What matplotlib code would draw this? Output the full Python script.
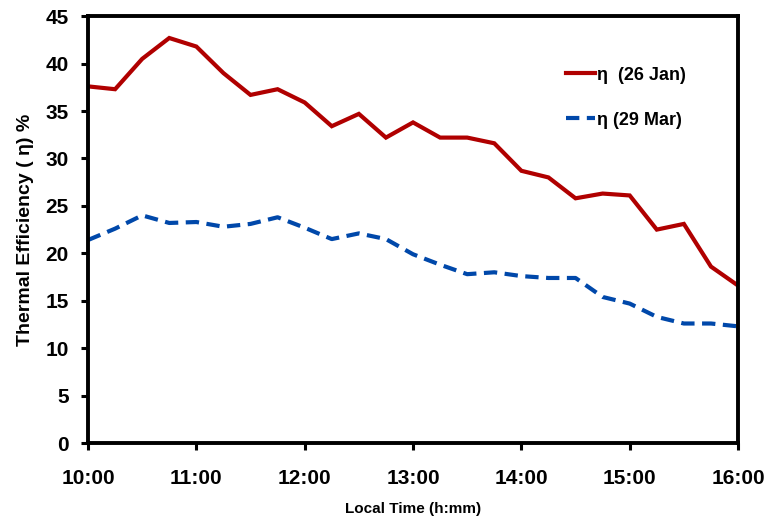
import matplotlib.pyplot as plt
from matplotlib.ticker import FixedLocator

# local time of each reading, 15 minute steps
times = ['10:00', '10:15', '10:30', '10:45', '11:00', '11:15', '11:30', '11:45',
         '12:00', '12:15', '12:30', '12:45', '13:00', '13:15', '13:30', '13:45',
         '14:00', '14:15', '14:30', '14:45', '15:00', '15:15', '15:30', '15:45',
         '16:00']
# thermal efficiency (%) on each day
eta_jan = [37.6, 37.3, 40.5, 42.7, 41.8, 39.0, 36.7, 37.3, 35.9, 33.4, 34.7, 32.2,
           33.8, 32.2, 32.2, 31.6, 28.7, 28.0, 25.8, 26.3, 26.1, 22.5, 23.1, 18.6,
           16.6]
eta_mar = [21.4, 22.6, 24.0, 23.2, 23.3, 22.8, 23.1, 23.8, 22.7, 21.5, 22.1, 21.5,
           19.9, 18.8, 17.8, 18.0, 17.6, 17.4, 17.4, 15.4, 14.7, 13.3, 12.6, 12.6,
           12.3]
hour_ticks = ['10:00', '11:00', '12:00', '13:00', '14:00', '15:00', '16:00']


def to_hours(s):
    h, m = s.split(':')
    return int(h) + int(m) / 60.0


x = [to_hours(t) for t in times]

plt.rcParams['font.family'] = ['Liberation Sans Narrow', 'Liberation Sans', 'DejaVu Sans']
plt.rcParams['font.weight'] = 'bold'

fig = plt.figure(figsize=(7.68, 5.22), dpi=100)
ax = fig.add_axes([0.1146, 0.1513, 0.8464, 0.8177])

ax.plot(x, eta_jan, color='#B00000', lw=3.0, solid_joinstyle='miter', label='η  (26 Jan)')
ax.plot(x, eta_mar, color='#0048AA', lw=3.0, dashes=(3.2, 1.8), label='η (29 Mar)')

ax.set_xlim(10, 16)
ax.set_ylim(0, 45)
ax.xaxis.set_major_locator(FixedLocator([to_hours(t) for t in hour_ticks]))
ax.set_xticklabels(hour_ticks)
ax.set_yticks(range(0, 46, 5))

for s in ax.spines.values():
    s.set_linewidth(2.8)
ax.tick_params(axis='both', direction='out', length=5, width=2.2, labelsize=15)
ax.tick_params(axis='x', pad=14)
ax.tick_params(axis='y', pad=9)
for lab in ax.get_xticklabels() + ax.get_yticklabels():
    lab.set_fontweight('bold')

ax.set_xlabel('Local Time (h:mm)', fontsize=11, fontweight='bold', labelpad=10)
ax.set_ylabel('Thermal Efficiency ( η) %', fontsize=14, fontweight='bold', labelpad=8,
              family=['Liberation Sans', 'DejaVu Sans'])

ax.legend(loc='upper right', bbox_to_anchor=(0.945, 0.92), frameon=False, fontsize=13,
          handlelength=1.6, handletextpad=0.1, labelspacing=1.55)

plt.savefig('out.png', dpi=100)
